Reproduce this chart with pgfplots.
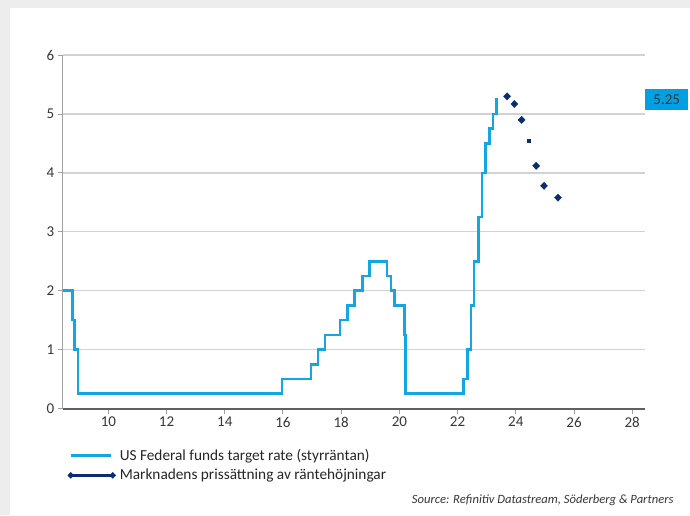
\documentclass[border=0pt]{standalone}
\usepackage{pgfplots}
\pgfplotsset{compat=1.18}
\usepackage{fontspec}
\setmainfont{Carlito}
\definecolor{fedblue}{RGB}{20,166,224}
\definecolor{navyd}{RGB}{10,45,110}
\definecolor{bordergray}{RGB}{238,237,237}
\definecolor{gridgray}{RGB}{210,210,210}
\definecolor{labgray}{RGB}{55,55,55}
\definecolor{boxblue}{RGB}{0,160,226}
\definecolor{axdark}{RGB}{96,96,96}
\definecolor{axlight}{RGB}{160,160,160}
\begin{document}
\begin{tikzpicture}[x=1pt,y=1pt]
\fill[bordergray] (0,0) rectangle (690,515);
\fill[white] (10,0) rectangle (690,507);
\begin{axis}[
  at={(62.7pt,106.5pt)}, anchor=south west,
  scale only axis, width=582.3pt, height=353.4pt,
  xmin=8.43, xmax=28.44, ymin=0, ymax=6,
  axis x line=bottom, axis y line=left,
  x axis line style={-, draw=axdark, line width=2pt},
  y axis line style={-, draw=axlight, line width=1.2pt},
  xtick={10,12,...,28}, ytick={0,1,...,6},
  tick align=outside, major tick length=5pt,
  tick style={draw=axlight, line width=1pt},
  ymajorgrids, grid style={draw=gridgray, line width=1.3pt},
  ticklabel style={font=\fontsize{15}{17}\selectfont, text=labgray},
  /pgf/number format/assume math mode=true,
  clip=false,
  legend style={draw=none, fill=none, inner sep=0pt, at={(0.008,-0.11)}, anchor=north west,
    font=\fontsize{15.3}{17}\selectfont, text=black!85, row sep=3pt},
  legend cell align=left,
]
\addplot[const plot, fedblue, line width=2.6pt, forget plot] coordinates {
(8.43,2.0) (8.77,1.5) (8.83,1.0) (8.96,0.25) (15.96,0.5) (16.96,0.75) (17.2,1.0)
(17.45,1.25) (17.96,1.5) (18.22,1.75) (18.46,2.0) (18.74,2.25) (18.97,2.5)
(19.58,2.25) (19.71,2.0) (19.83,1.75) (20.17,1.25) (20.21,0.25) (22.21,0.5)
(22.34,1.0) (22.46,1.75) (22.57,2.5) (22.72,3.25) (22.84,4.0) (22.96,4.5)
(23.09,4.75) (23.22,5.0) (23.34,5.25) (23.40,5.25)
};
\addplot[only marks, mark=diamond*, mark size=3.6pt, mark options={xscale=1.3}, navyd, forget plot] coordinates {
(23.70,5.30) (23.95,5.17) (24.20,4.90) (24.70,4.12) (24.97,3.78) (25.45,3.58)
};
\addplot[only marks, mark=square*, mark size=1.2pt, navyd, forget plot] coordinates {
(24.45,4.55)
};
\addlegendimage{legend image code/.code={\path[draw=none] (-3pt,0pt) -- (47pt,0pt);
  \draw[fedblue,line width=3pt] (0pt,0pt) -- (40pt,0pt);}}
\addlegendentry{US Federal funds target rate (styrräntan)}
\addlegendimage{legend image code/.code={\path[draw=none] (-3pt,0pt) -- (47pt,0pt);
  \draw[navyd,line width=3pt] (0pt,0pt) -- (42pt,0pt);
  \fill[navyd] (-3pt,0pt) -- (0pt,3pt) -- (3pt,0pt) -- (0pt,-3pt) -- cycle;
  \fill[navyd] (39pt,0pt) -- (42pt,3pt) -- (45pt,0pt) -- (42pt,-3pt) -- cycle;}}
\addlegendentry{Marknadens prissättning av räntehöjningar}
\node[fill=boxblue, text=labgray, minimum width=43pt, minimum height=21pt, inner sep=0pt, anchor=west,
  font=\fontsize{15}{17}\selectfont] at (axis cs:28.44,5.25) {5.25};
\end{axis}
\node[anchor=east, font=\fontsize{12.6}{14}\selectfont\itshape, text=labgray] at (677,15) {Source: Refinitiv Datastream, Söderberg \& Partners};
\end{tikzpicture}
\end{document}
